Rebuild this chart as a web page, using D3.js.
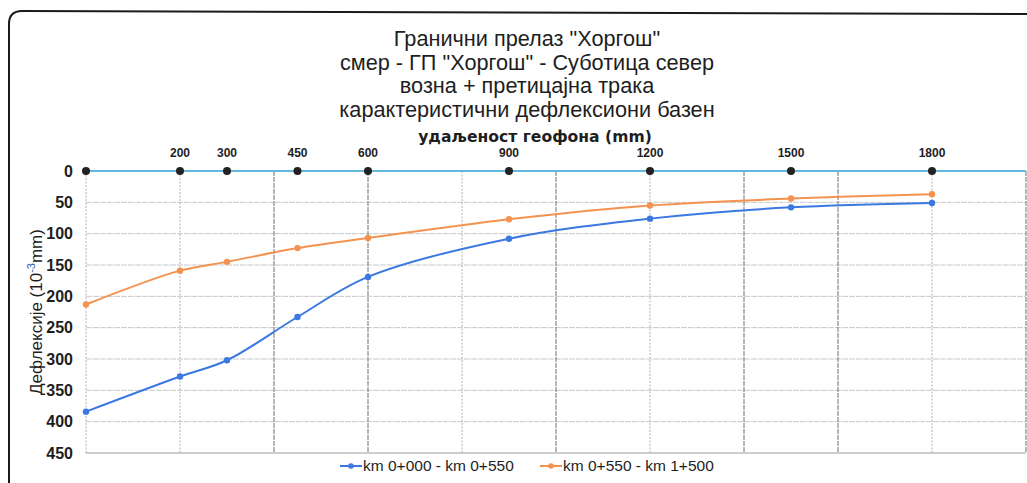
<!DOCTYPE html>
<html><head><meta charset="utf-8">
<script src="https://cdn.jsdelivr.net/npm/d3@7"></script>
<style>
html,body{margin:0;padding:0;background:#fff;}
svg{display:block;}
text{font-family:"Liberation Sans",Arial,sans-serif;fill:#1e1e1e;}
</style></head><body>
<svg id="c" width="1027" height="483"></svg>
<script>
const titleLines = ["Гранични прелаз \"Хоргош\"", "смер - ГП \"Хоргош\" - Суботица север", "возна + претицајна трака", "карактеристични дефлексиони базен"];
const xAxisTitle = "удаљеност геофона (mm)";
const yAxisTitle = "Дефлексије (10";
const geophones = [0, 200, 300, 450, 600, 900, 1200, 1500, 1800];
const yTicks = [0, 50, 100, 150, 200, 250, 300, 350, 400, 450];
const xGrid = [0, 200, 400, 600, 800, 1000, 1200, 1400, 1600, 1800, 2000];
const seriesNames = ["km 0+000 - km 0+550", "km 0+550 - km 1+500"];
const series1 = [384, 328, 302, 233, 169, 108, 76, 58, 51];
const series2 = [213, 159, 145, 123, 107, 77, 55, 44, 37];
const colors = ["#3b78e0", "#f4934f"];

const svg = d3.select("#c");
const x = d3.scaleLinear().domain([0, 2000]).range([86, 1026]);
const y = d3.scaleLinear().domain([0, 450]).range([171, 453]);

// frame
svg.append("path").attr("d", "M9,483 L9,24 Q9,11 22,11 L1027,14")
  .attr("fill", "none").attr("stroke", "#1a1a1a").attr("stroke-width", 2);

// horizontal grid
svg.append("g").selectAll("line").data(yTicks.slice(1)).join("line")
  .attr("x1", x(0)).attr("x2", x(2000)).attr("y1", d => y(d)).attr("y2", d => y(d))
  .attr("stroke", d => d === 450 ? "#9a9a9a" : "#c8c8c8").attr("stroke-width", 1)
  .attr("stroke-dasharray", d => d === 450 ? null : "6,1");

// vertical grid
const darkSet = new Set([400, 600, 1000, 1400, 1600, 2000]);
svg.append("g").selectAll("line").data(xGrid).join("line")
  .attr("x1", d => x(d)).attr("x2", d => x(d)).attr("y1", y(0)).attr("y2", y(450))
  .attr("stroke", d => darkSet.has(d) ? "#707070" : "#b0b0b0").attr("stroke-width", 1)
  .attr("stroke-dasharray", d => darkSet.has(d) ? "5,1" : "2,1.5");

// y axis labels
svg.append("g").selectAll("text").data(yTicks).join("text")
  .attr("x", 73).attr("y", d => y(d)).attr("dy", "0.36em").attr("text-anchor", "end")
  .attr("font-size", 16).attr("font-weight", "bold").text(d => d);

// y axis title
const yt = svg.append("text").attr("transform", "translate(42,312) rotate(-90)")
  .attr("text-anchor", "middle").attr("font-size", 17);
yt.append("tspan").text(yAxisTitle);
yt.append("tspan").attr("font-size", 11).attr("dy", -7).attr("fill", "#3060b0").text("-3");
yt.append("tspan").attr("dy", 7).text("mm)");

// title
svg.append("g").selectAll("text").data(titleLines).join("text")
  .attr("x", 527).attr("y", (d, i) => 46 + i * 23.7).attr("text-anchor", "middle")
  .attr("font-size", 21.7).text(d => d);
svg.append("text").attr("x", 535).attr("y", 142).attr("text-anchor", "middle")
  .attr("font-size", 15.6).attr("font-weight", "bold")
  .style("font-family", "'DejaVu Sans',sans-serif").text(xAxisTitle);

// geophone line
svg.append("line").attr("x1", x(0)).attr("x2", x(2000)).attr("y1", y(0)).attr("y2", y(0))
  .attr("stroke", "#62b8dc").attr("stroke-width", 1.8);
svg.append("g").selectAll("text").data(geophones.slice(1)).join("text")
  .attr("x", d => x(d)).attr("y", 157).attr("text-anchor", "middle")
  .attr("font-size", 12).attr("font-weight", "bold").text(d => d);
svg.append("g").selectAll("circle").data(geophones).join("circle")
  .attr("cx", d => x(d)).attr("cy", y(0)).attr("r", 4).attr("fill", "#222");

// series
const line = d3.line().x(d => x(d[0])).y(d => y(d[1])).curve(d3.curveCatmullRom.alpha(0.5));
[series1, series2].forEach((s, i) => {
  const pts = geophones.map((g, j) => [g, s[j]]);
  svg.append("path").attr("d", line(pts)).attr("fill", "none")
    .attr("stroke", colors[i]).attr("stroke-width", 2);
  svg.append("g").selectAll("circle").data(pts).join("circle")
    .attr("cx", d => x(d[0])).attr("cy", d => y(d[1])).attr("r", 3.2).attr("fill", colors[i]);
});

// legend
const lg = [{x: 340}, {x: 540}];
lg.forEach((l, i) => {
  svg.append("line").attr("x1", l.x).attr("x2", l.x + 22).attr("y1", 466).attr("y2", 466)
    .attr("stroke", colors[i]).attr("stroke-width", 2);
  svg.append("circle").attr("cx", l.x + 11).attr("cy", 466).attr("r", 2.8).attr("fill", colors[i]);
  svg.append("text").attr("x", l.x + 23).attr("y", 471).attr("font-size", 15.5).text(seriesNames[i]);
});
</script>
</body></html>
